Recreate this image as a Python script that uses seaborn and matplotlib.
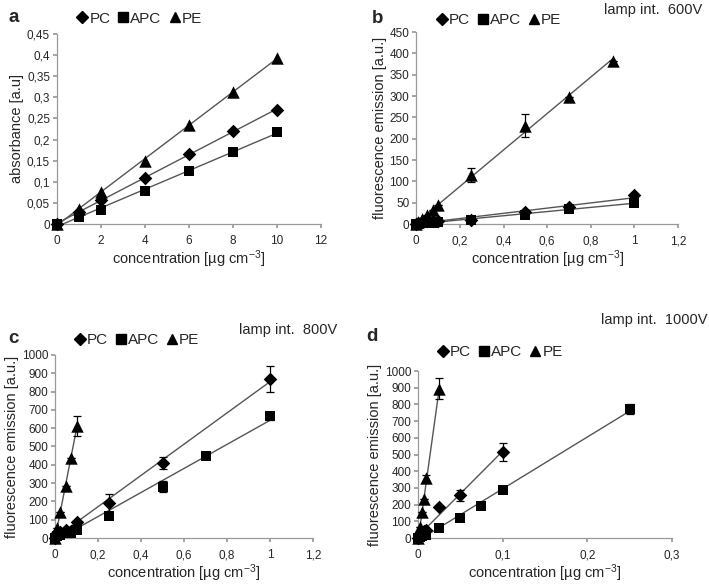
import matplotlib
matplotlib.use("Agg")
import matplotlib.pyplot as plt
from matplotlib.ticker import FuncFormatter, MultipleLocator
from matplotlib.lines import Line2D
import seaborn as sns
import pandas as pd

# ---- panel a: absorbance ----
A_X = [0, 1, 2, 4, 6, 8, 10]
A_PC = [0, 0.028, 0.058, 0.11, 0.165, 0.22, 0.27]
A_APC = [0, 0.017, 0.034, 0.078, 0.125, 0.171, 0.218]
A_PE = [0, 0.035, 0.077, 0.15, 0.235, 0.313, 0.392]

# ---- panel b: lamp 600V ----
B_PC_X = [0, 0.01, 0.025, 0.05, 0.075, 0.1, 0.25, 0.5, 0.7, 1.0]
B_PC_Y = [0, 2, 5, 8, 6, 7, 10, 28, 40, 67]
B_PC_E = [0, 0, 0, 0, 0, 0, 0, 0, 0, 0]
B_APC_X = [0, 0.01, 0.025, 0.05, 0.075, 0.1, 0.25, 0.5, 0.7, 1.0]
B_APC_Y = [0, 1, 2, 4, 3, 5, 10, 22, 35, 50]
B_APC_E = [0, 0, 0, 0, 0, 0, 0, 0, 0, 0]
B_PE_X = [0, 0.01, 0.025, 0.05, 0.075, 0.1, 0.25, 0.5, 0.7, 0.9]
B_PE_Y = [0, 5, 12, 22, 33, 45, 115, 230, 298, 382]
B_PE_E = [0, 0, 0, 0, 0, 0, 17, 27, 0, 0]

# ---- panel c: lamp 800V ----
C_PC_X = [0, 0.005, 0.01, 0.025, 0.05, 0.075, 0.1, 0.25, 0.5, 1.0]
C_PC_Y = [0, 20, 30, 35, 45, 40, 85, 190, 410, 870]
C_PC_E = [0, 0, 0, 0, 0, 0, 0, 50, 35, 70]
C_APC_X = [0, 0.01, 0.025, 0.05, 0.075, 0.1, 0.25, 0.5, 0.7, 1.0]
C_APC_Y = [0, 10, 15, 25, 30, 45, 120, 280, 450, 665]
C_APC_E = [0, 0, 0, 0, 0, 0, 0, 30, 20, 20]
C_PE_X = [0, 0.005, 0.01, 0.025, 0.05, 0.075, 0.1]
C_PE_Y = [0, 30, 55, 140, 285, 435, 610]
C_PE_E = [0, 0, 0, 0, 0, 0, 55]

# ---- panel d: lamp 1000V ----
D_PC_X = [0, 0.0025, 0.005, 0.0075, 0.01, 0.025, 0.05, 0.1]
D_PC_Y = [0, 20, 35, 45, 50, 185, 255, 515]
D_PC_E = [0, 0, 0, 0, 0, 0, 35, 55]
D_APC_X = [0, 0.0025, 0.005, 0.01, 0.025, 0.05, 0.075, 0.1, 0.25]
D_APC_Y = [0, 5, 10, 20, 60, 120, 190, 285, 775]
D_APC_E = [0, 0, 0, 0, 0, 0, 0, 0, 30]
D_PE_X = [0, 0.0025, 0.005, 0.0075, 0.01, 0.025]
D_PE_Y = [0, 65, 155, 235, 360, 895]
D_PE_E = [0, 0, 0, 0, 20, 65]

MARKERS = {"PC": "D", "APC": "s", "PE": "^"}
SIZES = {"PC": 48, "APC": 52, "PE": 80}

sns.set_theme(style="white")
plt.rcParams["font.family"] = ["Liberation Sans", "DejaVu Sans"]
plt.rcParams["mathtext.default"] = "regular"

fig = plt.figure(figsize=(7.09, 5.85), dpi=100)


def comma(v, pos):
    return f"{v:.10g}".replace(".", ",")


def draw_panel(ax, series, xmax, xstep, ymax, ystep, ylabel):
    for name, x, y, err in series:
        df = pd.DataFrame({"x": x, "y": y})
        # linear trendline over the data range
        sns.regplot(data=df, x="x", y="y", ax=ax, scatter=False, ci=None,
                    truncate=True, color="#555555", line_kws={"lw": 1, "zorder": 2})
        if err is not None and any(err):
            ax.errorbar(x, y, yerr=err, fmt="none", ecolor="black", elinewidth=0.9,
                        capsize=3, capthick=0.9, zorder=3, clip_on=False)
        sns.scatterplot(data=df, x="x", y="y", ax=ax, marker=MARKERS[name],
                        s=SIZES[name], color="black", edgecolor="black",
                        linewidth=0, zorder=4, clip_on=False)
    ax.set_xlim(0, xmax)
    ax.set_ylim(0, ymax)
    ax.xaxis.set_major_locator(MultipleLocator(xstep))
    ax.yaxis.set_major_locator(MultipleLocator(ystep))
    ax.xaxis.set_major_formatter(FuncFormatter(comma))
    ax.yaxis.set_major_formatter(FuncFormatter(comma))
    for side in ["top", "right"]:
        ax.spines[side].set_visible(False)
    for side in ["left", "bottom"]:
        ax.spines[side].set_color("#999999")
        ax.spines[side].set_linewidth(0.9)
    ax.tick_params(axis="both", labelsize=8.5, length=3, color="#999999",
                   direction="out", bottom=True, left=True, pad=2)
    ax.tick_params(axis="x", pad=5)
    ax.set_xlabel("concentration [µg cm$^{-3}$]", fontsize=10.5, labelpad=1)
    ax.set_ylabel(ylabel, fontsize=10.5, labelpad=2)


def legend(ax, x, y):
    handles = [Line2D([], [], ls="none", marker=MARKERS[n], color="black",
                      markersize=6.5 if n != "PE" else 7.5) for n in ["PC", "APC", "PE"]]
    ax.legend(handles, ["PC", "APC", "PE"], loc="center left", bbox_to_anchor=(x, y),
              bbox_transform=fig.transFigure, ncol=3, frameon=False, fontsize=11,
              handlelength=0.7, handletextpad=0.1, columnspacing=0.5, borderpad=0)


ax_a = fig.add_axes([0.0804, 0.617, 0.372, 0.325])
draw_panel(ax_a, [("PC", A_X, A_PC, None), ("APC", A_X, A_APC, None), ("PE", A_X, A_PE, None)],
           12, 2, 0.45, 0.05, "absorbance [a.u]")
legend(ax_a, 0.098, 0.968)
fig.text(0.012, 0.97, "a", fontsize=13.5, fontweight="bold", va="center")

ax_b = fig.add_axes([0.587, 0.617, 0.3695, 0.328])
draw_panel(ax_b, [("PC", B_PC_X, B_PC_Y, B_PC_E), ("APC", B_APC_X, B_APC_Y, B_APC_E),
                  ("PE", B_PE_X, B_PE_Y, B_PE_E)],
           1.2, 0.2, 450, 50, "fluorescence emission [a.u.]")
legend(ax_b, 0.605, 0.965)
fig.text(0.524, 0.968, "b", fontsize=13.5, fontweight="bold", va="center")
fig.text(0.99, 0.983, "lamp int.  600V", fontsize=10.5, ha="right", va="center")

ax_c = fig.add_axes([0.0776, 0.0803, 0.364, 0.313])
draw_panel(ax_c, [("PC", C_PC_X, C_PC_Y, C_PC_E), ("APC", C_APC_X, C_APC_Y, C_APC_E),
                  ("PE", C_PE_X, C_PE_Y, C_PE_E)],
           1.2, 0.2, 1000, 100, "fluorescence emission [a.u.]")
legend(ax_c, 0.094, 0.419)
fig.text(0.011, 0.422, "c", fontsize=13.5, fontweight="bold", va="center")
fig.text(0.476, 0.436, "lamp int.  800V", fontsize=10.5, ha="right", va="center")

ax_d = fig.add_axes([0.5896, 0.0803, 0.358, 0.2855])
draw_panel(ax_d, [("PC", D_PC_X, D_PC_Y, D_PC_E), ("APC", D_APC_X, D_APC_Y, D_APC_E),
                  ("PE", D_PE_X, D_PE_Y, D_PE_E)],
           0.3, 0.1, 1000, 100, "fluorescence emission [a.u.]")
legend(ax_d, 0.607, 0.398)
fig.text(0.517, 0.425, "d", fontsize=13.5, fontweight="bold", va="center")
fig.text(0.998, 0.453, "lamp int.  1000V", fontsize=10.5, ha="right", va="center")

fig.savefig("out.png", dpi=100)
